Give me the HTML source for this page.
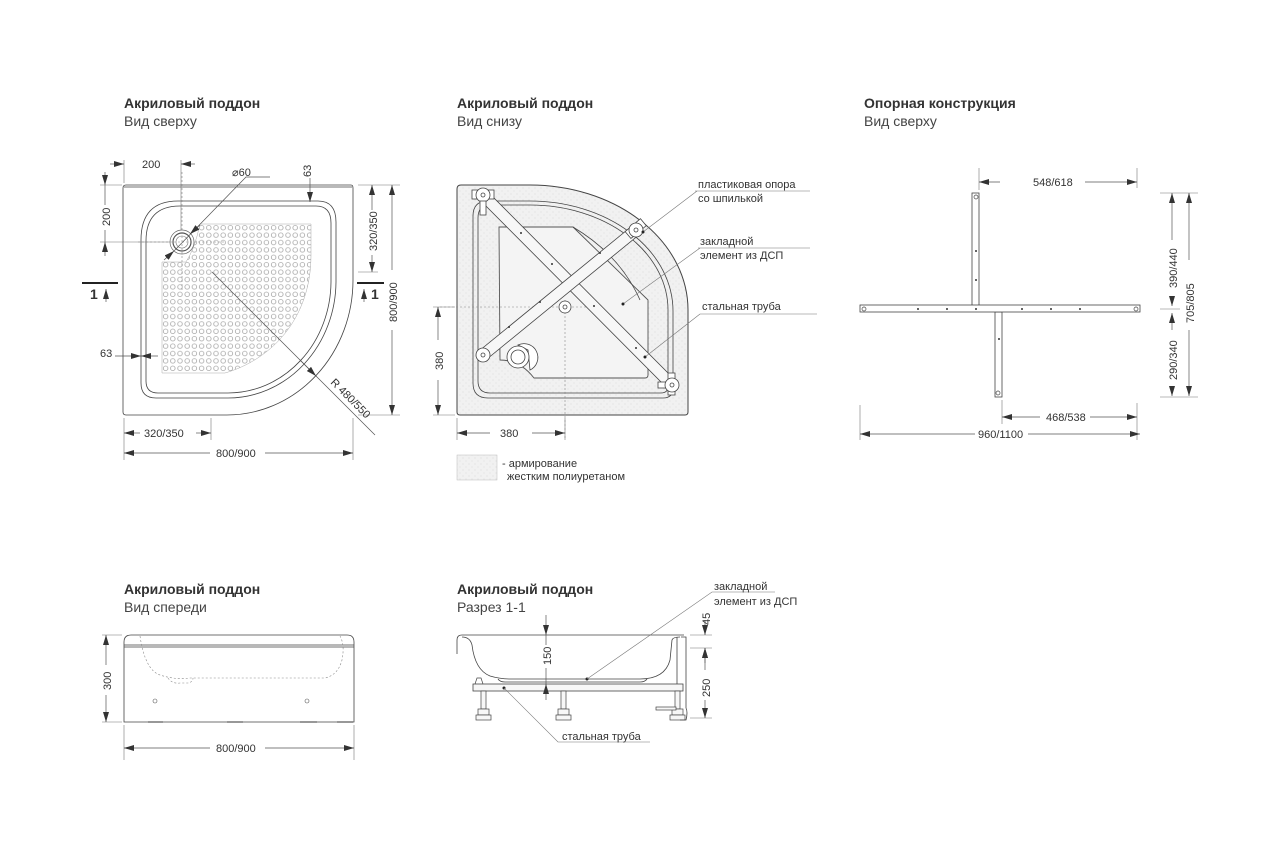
<!DOCTYPE html>
<html><head><meta charset="utf-8"><style>
html,body{margin:0;padding:0;background:#fff;}
svg{display:block;font-family:"Liberation Sans","DejaVu Sans",sans-serif;}
.t{font-size:14px;font-weight:bold;fill:#333;}
.s{font-size:14px;fill:#444;}
.d{font-size:11px;fill:#333;}
.l{font-size:11px;fill:#333;}
.ln{stroke:#444;stroke-width:0.8;fill:none;}
.dm{stroke:#555;stroke-width:0.7;fill:none;}
.ext{stroke:#777;stroke-width:0.6;fill:none;}
.dash{stroke:#888;stroke-width:0.6;fill:none;stroke-dasharray:2,2;}
</style></head><body>
<svg width="1280" height="852" viewBox="0 0 1280 852">
<defs>
<marker id="a" viewBox="0 0 10 6" refX="10" refY="3" markerWidth="10" markerHeight="6" orient="auto" markerUnits="userSpaceOnUse"><path d="M0,0 L10,3 L0,6 Z" fill="#333"/></marker>
<pattern id="dots" x="162" y="224" width="7.2" height="7.4" patternUnits="userSpaceOnUse"><circle cx="3.6" cy="3.7" r="2.3" fill="none" stroke="#999" stroke-width="0.7"/></pattern>
<pattern id="stip" width="6" height="6" patternUnits="userSpaceOnUse"><rect width="6" height="6" fill="#f1f1f1"/><circle cx="1" cy="2" r="0.5" fill="#d0d0d0"/><circle cx="4" cy="5" r="0.5" fill="#d6d6d6"/></pattern>
</defs>

<!-- Titles -->
<text x="124" y="108" class="t">Акриловый поддон</text><text x="124" y="126" class="s">Вид сверху</text>
<text x="457" y="108" class="t">Акриловый поддон</text><text x="457" y="126" class="s">Вид снизу</text>
<text x="864" y="108" class="t">Опорная конструкция</text><text x="864" y="126" class="s">Вид сверху</text>
<text x="124" y="594" class="t">Акриловый поддон</text><text x="124" y="612" class="s">Вид спереди</text>
<text x="457" y="594" class="t">Акриловый поддон</text><text x="457" y="612" class="s">Разрез 1-1</text>

<!-- ===== Panel 1: top view ===== -->
<path class="ln" stroke-width="1.2" d="M126,185 H351 Q353,185 353,188 V280 A126,135 0 0 1 227,415 H126 Q123,415 123,412 V188 Q123,185 126,185 Z"/>
<path class="ln" d="M124,187 H352"/>
<path class="ln" d="M178,201 H318 Q336,201 336,222 V282 A108,117 0 0 1 228,398 H156 Q141,398 141,383 V240 Q141,201 178,201 Z"/>
<path class="ln" stroke="#777" d="M180,206 H316 Q331,206 331,223 V282 A103,112 0 0 1 228,393 H158 Q146,393 146,381 V241 Q146,206 180,206 Z"/>
<path d="M200,224 H311 V255 C311,320 270,360 225,373 H162 V262 H186 Q195,248 200,224 Z" fill="url(#dots)" stroke="#aaa" stroke-width="0.5"/>
<circle cx="182" cy="242" r="12" fill="#fff" stroke="#666" stroke-width="0.7"/>
<circle cx="182" cy="242" r="9" fill="none" stroke="#555" stroke-width="1.2"/>
<circle cx="182" cy="242" r="6" fill="none" stroke="#777" stroke-width="0.6"/>
<path class="dash" d="M138,242 H225 M182,172 V290"/>
<!-- dims -->
<path class="ext" d="M124,160 V183 M181,160 V230 M100,185 H122 M100,242 H170"/>
<path class="dm" d="M110,164 H124" marker-end="url(#a)"/>
<path class="dm" d="M195,164 H181" marker-end="url(#a)"/>
<text x="142" y="168" class="d">200</text>
<path class="dm" d="M105,172 V185" marker-end="url(#a)"/>
<path class="dm" d="M105,256 V242" marker-end="url(#a)"/>
<path class="dm" d="M105,185 V205 M105,230 V242"/>
<text class="d" transform="translate(110,226) rotate(-90)">200</text>
<text x="232" y="176" class="d">⌀60</text>
<path class="dm" d="M270,177 H246 L174,251" />
<path class="dm" d="M200,225 L190,234" marker-end="url(#a)"/>
<path class="dm" d="M164,260 L174,251" marker-end="url(#a)"/>
<text class="d" transform="translate(311,177) rotate(-90)">63</text>
<path class="dm" d="M310,178 V202" marker-end="url(#a)"/>
<path class="ext" d="M358,185 H400 M358,272 H378 M358,415 H400"/>
<path class="dm" d="M372,210 V185" marker-end="url(#a)"/>
<path class="dm" d="M372,255 V272" marker-end="url(#a)"/>
<text class="d" transform="translate(377,251) rotate(-90)">320/350</text>
<path class="dm" d="M392,270 V185" marker-end="url(#a)"/>
<path class="dm" d="M392,330 V415" marker-end="url(#a)"/>
<text class="d" transform="translate(397,322) rotate(-90)">800/900</text>
<path d="M82,283 H118 M357,283 H384" stroke="#222" stroke-width="2"/>
<text x="90" y="299" class="t" font-size="14">1</text><text x="371" y="299" class="t" font-size="14">1</text>
<path class="dm" d="M106,302 V289" marker-end="url(#a)"/>
<path class="dm" d="M364,302 V289" marker-end="url(#a)"/>
<text x="100" y="357" class="d">63</text>
<path class="dm" d="M115,356 H141" marker-end="url(#a)"/>
<path class="dm" d="M158,356 H141" marker-end="url(#a)"/>
<path class="dm" d="M212,272 L375,435"/>
<path class="dm" d="M300,360 L316,376" marker-end="url(#a)"/>
<text class="d" transform="translate(330,383) rotate(45)">R 480/550</text>
<path class="ext" d="M124,418 V460 M211,418 V440 M353,418 V460"/>
<path class="dm" d="M140,433 H124" marker-end="url(#a)"/>
<path class="dm" d="M196,433 H211" marker-end="url(#a)"/>
<text x="144" y="437" class="d">320/350</text>
<path class="dm" d="M210,453 H124" marker-end="url(#a)"/>
<path class="dm" d="M265,453 H353" marker-end="url(#a)"/>
<text x="216" y="457" class="d">800/900</text>

<!-- ===== Panel 2: bottom view ===== -->
<path d="M461,185 H530 A158,125 0 0 1 688,310 V412 Q688,415 685,415 H460 Q457,415 457,412 V189 Q457,185 461,185 Z" fill="url(#stip)" stroke="#444" stroke-width="1"/>
<path class="ln" stroke="#888" d="M488,201 H530 A143,110 0 0 1 673,311 V388 Q673,398 663,398 H488 Q473,398 473,383 V216 Q473,201 488,201 Z"/>
<path class="ln" stroke="#999" d="M490,205 H530 A138,105 0 0 1 668,311 V386 Q668,393 661,393 H490 Q478,393 478,381 V218 Q478,205 490,205 Z"/>
<path d="M499,227 H573 L648,300 V375 Q648,378 645,378 H534 Q520,360 500,360 Z" fill="#f4f4f4" stroke="#555" stroke-width="0.9"/>
<path class="ln" stroke="#888" d="M573,227 Q620,255 640,300"/>
<path class="dash" d="M440,307 H600 M565,300 V440"/>
<!-- bars -->
<path d="M479,199 L487,191 L676,381 L668,389 Z" fill="#f7f7f7" stroke="#444" stroke-width="0.8"/>
<path d="M479,351 L487,359 L640,234 L632,226 Z" fill="#f7f7f7" stroke="#444" stroke-width="0.8"/>
<g fill="#333"><circle cx="521" cy="233" r="1"/><circle cx="552" cy="264" r="1"/><circle cx="594" cy="306" r="1"/><circle cx="636" cy="348" r="1"/><circle cx="509" cy="327" r="1"/><circle cx="540" cy="302" r="1"/><circle cx="600" cy="253" r="1"/></g>
<g fill="#fff" stroke="#444" stroke-width="0.8">
<rect x="472" y="190" width="22" height="9"/><circle cx="483" cy="195" r="7"/><circle cx="483" cy="195" r="2"/>
<rect x="480" y="201" width="6" height="14"/>
<circle cx="483" cy="355" r="7"/><circle cx="483" cy="355" r="2"/>
<rect x="626" y="224" width="20" height="9" transform="rotate(-40 636 229)"/><circle cx="636" cy="230" r="7"/><circle cx="636" cy="230" r="2"/>
<rect x="668" y="373" width="7" height="22"/><rect x="658" y="382" width="12" height="6"/><circle cx="672" cy="385" r="7"/><circle cx="672" cy="385" r="2"/>
<circle cx="565" cy="307" r="6"/><circle cx="565" cy="307" r="2"/>
<path d="M518,345 A13,13 0 1 1 530,370 L528,350 Z"/>
<circle cx="518" cy="357" r="11"/><circle cx="518" cy="357" r="7"/>
</g>
<!-- labels -->
<path class="ext" d="M695,191 H810 M643,232 L697,191 M698,248 H810 M623,304 L700,248 M700,314 H817 M645,357 L700,314"/>
<circle cx="643" cy="232" r="1.5" fill="#222"/><circle cx="623" cy="304" r="1.5" fill="#222"/><circle cx="645" cy="357" r="1.5" fill="#222"/>
<text x="698" y="188" class="l">пластиковая опора</text><text x="698" y="202" class="l">со шпилькой</text>
<text x="700" y="245" class="l">закладной</text><text x="700" y="259" class="l">элемент из ДСП</text>
<text x="702" y="310" class="l">стальная труба</text>
<!-- dims -->
<path class="ext" d="M433,307 H455 M433,415 H455 M457,418 V440 M565,418 V440"/>
<path class="dm" d="M438,340 V307" marker-end="url(#a)"/>
<path class="dm" d="M438,380 V415" marker-end="url(#a)"/>
<text class="d" transform="translate(443,370) rotate(-90)">380</text>
<path class="dm" d="M490,433 H457" marker-end="url(#a)"/>
<path class="dm" d="M532,433 H565" marker-end="url(#a)"/>
<text x="500" y="437" class="d">380</text>
<rect x="457" y="455" width="40" height="25" fill="url(#stip)" stroke="#bbb" stroke-width="0.5"/>
<text x="502" y="467" class="l" font-size="10">- армирование</text>
<text x="507" y="480" class="l" font-size="10">жестким полиуретаном</text>

<!-- ===== Panel 3: support frame ===== -->
<rect x="972" y="193" width="7" height="113" fill="#fff" stroke="#444" stroke-width="0.8"/>
<rect x="995" y="312" width="7" height="85" fill="#fff" stroke="#444" stroke-width="0.8"/>
<rect x="860" y="305" width="280" height="7" fill="#fff" stroke="#444" stroke-width="0.8"/>
<g fill="none" stroke="#444" stroke-width="0.7"><circle cx="976" cy="197" r="2"/><circle cx="998" cy="393" r="2"/><circle cx="864" cy="309" r="2"/><circle cx="1136" cy="309" r="2"/></g>
<g fill="#333"><circle cx="976" cy="251" r="1"/><circle cx="976" cy="280" r="1"/><circle cx="918" cy="309" r="1"/><circle cx="947" cy="309" r="1"/><circle cx="976" cy="309" r="1"/><circle cx="1022" cy="309" r="1"/><circle cx="1051" cy="309" r="1"/><circle cx="1080" cy="309" r="1"/><circle cx="999" cy="339" r="1"/></g>
<path class="ext" d="M979,168 V190 M1137,168 V188 M1137,403 V440 M1002,400 V424 M860,405 V440 M1160,193 H1198 M1160,309 H1180 M1160,397 H1198"/>
<path class="dm" d="M1000,182 H979" marker-end="url(#a)"/>
<path class="dm" d="M1085,182 H1137" marker-end="url(#a)"/>
<text x="1033" y="186" class="d">548/618</text>
<path class="dm" d="M1172,240 V193" marker-end="url(#a)"/>
<path class="dm" d="M1172,296 V306" marker-end="url(#a)"/>
<text class="d" transform="translate(1177,288) rotate(-90)">390/440</text>
<path class="dm" d="M1172,330 V313" marker-end="url(#a)"/>
<path class="dm" d="M1172,386 V396" marker-end="url(#a)"/>
<text class="d" transform="translate(1177,380) rotate(-90)">290/340</text>
<path class="dm" d="M1189,260 V193" marker-end="url(#a)"/>
<path class="dm" d="M1189,330 V396" marker-end="url(#a)"/>
<text class="d" transform="translate(1194,323) rotate(-90)">705/805</text>
<path class="dm" d="M1040,417 H1002" marker-end="url(#a)"/>
<path class="dm" d="M1090,417 H1137" marker-end="url(#a)"/>
<text x="1046" y="421" class="d">468/538</text>
<path class="dm" d="M975,434 H860" marker-end="url(#a)"/>
<path class="dm" d="M1028,434 H1140" marker-end="url(#a)"/>
<text x="978" y="438" class="d">960/1100</text>

<!-- ===== Panel 4: front view ===== -->
<path class="ln" stroke-width="1" d="M124,722 V642 Q124,635 131,635 H347 Q354,635 354,642 V722 Z"/>
<path class="ln" d="M124,645 H354 M124,647 H354"/>
<path class="dash" d="M140,636 Q145,670 160,675 Q175,680 190,678 H325 Q338,675 342,660 Q345,645 340,636 M168,678 Q172,684 180,683 H188 Q193,682 193,678"/>
<g fill="none" stroke="#555" stroke-width="0.6"><circle cx="155" cy="701" r="2"/><circle cx="307" cy="701" r="2"/></g>
<path d="M148,722 H163 M227,722 H243 M300,722 H317 M337,722 H353" stroke="#777" stroke-width="1.5"/>
<path class="ext" d="M102,635 H122 M102,722 H122 M124,725 V760 M354,725 V760"/>
<path class="dm" d="M106,665 V635" marker-end="url(#a)"/>
<path class="dm" d="M106,695 V722" marker-end="url(#a)"/>
<text class="d" transform="translate(111,690) rotate(-90)">300</text>
<path class="dm" d="M210,748 H124" marker-end="url(#a)"/>
<path class="dm" d="M265,748 H354" marker-end="url(#a)"/>
<text x="216" y="752" class="d">800/900</text>

<!-- ===== Panel 5: section ===== -->
<path class="ln" stroke-width="1" d="M457,654 V640 Q457,635 462,635 H684 M462,637 Q470,637 472,645 Q475,670 490,676 Q500,679 510,679 H640 Q665,679 670,660 L672,640 Q673,637 680,637"/>
<path class="ln" d="M498,679 Q500,682 505,682 H640 Q645,682 647,679"/>
<rect x="473" y="684" width="210" height="7" fill="#f7f7f7" stroke="#444" stroke-width="0.8"/>
<path class="ln" d="M681,637 H686 V708 M677,637 V684"/>
<path d="M475,684 L477,678 H481 L483,684" fill="none" stroke="#444" stroke-width="0.7"/>
<g fill="#f7f7f7" stroke="#444" stroke-width="0.7">
<rect x="481" y="691" width="5" height="18"/><rect x="478" y="709" width="11" height="6"/><rect x="476" y="715" width="15" height="5"/>
<rect x="561" y="691" width="5" height="18"/><rect x="558" y="709" width="11" height="6"/><rect x="556" y="715" width="15" height="5"/>
<rect x="675" y="691" width="5" height="18"/><rect x="672" y="709" width="11" height="6"/><rect x="670" y="715" width="15" height="5"/>
<rect x="656" y="707" width="20" height="3"/>
</g>
<path class="ln" d="M686,708 Q688,712 686,720 H680"/>
<circle cx="587" cy="679" r="1.5" fill="#222"/><circle cx="504" cy="688" r="1.5" fill="#222"/>
<path class="ext" d="M587,679 L712,592 H775 M504,688 L558,742 H650"/>
<text x="714" y="590" class="l">закладной</text><text x="714" y="605" class="l">элемент из ДСП</text>
<text x="562" y="740" class="l">стальная труба</text>
<path class="ext" d="M690,635 H712 M690,648 H712 M690,718 H712"/>
<path class="dm" d="M705,620 V635" marker-end="url(#a)"/>
<path class="dm" d="M705,663 V648" marker-end="url(#a)"/>
<text class="d" transform="translate(710,625) rotate(-90)">45</text>
<path class="dm" d="M705,670 V648" marker-end="url(#a)"/>
<path class="dm" d="M705,700 V718" marker-end="url(#a)"/>
<text class="d" transform="translate(710,697) rotate(-90)">250</text>
<path class="dm" d="M546,615 V635" marker-end="url(#a)"/>
<path class="dm" d="M546,700 V684" marker-end="url(#a)"/>
<path class="dm" d="M546,635 V645 M546,668 V684"/>
<text class="d" transform="translate(551,665) rotate(-90)">150</text>
</svg>
</body></html>
